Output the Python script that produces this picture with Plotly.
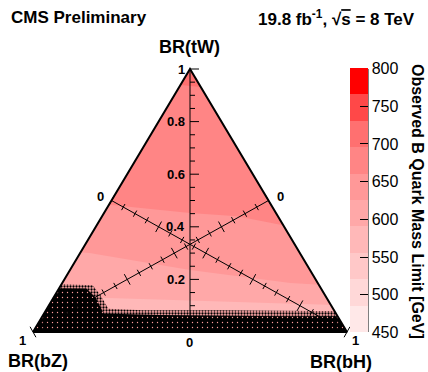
import plotly.graph_objects as go

# ---------------- data ----------------
band_edges = [450, 485, 520, 555, 590, 625, 660, 695, 730, 765, 800]
band_colors = ["#FFE8E8", "#FFD8D8", "#FFC8C8", "#FFB8B8", "#FFA8A8",
               "#FF9898", "#FF8585", "#FF7070", "#FF4848", "#FF0000"]
cbar_ticks = [450, 500, 550, 600, 650, 700, 750, 800]

# contour boundaries: x = horizontal position across base (0..1), tW = BR(tW)
b660_x = [-0.05, 0.25, 0.50, 0.65, 0.80, 1.05]
b660_tw = [0.50, 0.483, 0.452, 0.44, 0.405, 0.40]
b625_x = [-0.05, 0.18, 0.50, 0.82, 1.05]
b625_tw = [0.32, 0.30, 0.236, 0.186, 0.17]
b590_x = [-0.05, 0.25, 0.50, 0.75, 1.05]
b590_tw = [0.14, 0.13, 0.12, 0.11, 0.10]
b695_x = [0.40, 0.50, 0.60]
b695_tw = [0.95, 0.935, 0.925]

# black (no-data / dotted) region
fringe_x = [-0.1, 0.08, 0.19, 0.215, 0.24, 0.35, 0.60, 0.90, 1.1]
fringe_tw = [0.19, 0.183, 0.178, 0.14, 0.088, 0.083, 0.083, 0.08, 0.08]
core_x = [-0.1, 0.17, 0.20, 0.225, 0.40, 0.80, 1.1]
core_tw = [0.168, 0.165, 0.13, 0.07, 0.065, 0.06, 0.06]

tick_vals = [round(i * 0.05, 2) for i in range(21)]
major_vals = [0.0, 0.2, 0.4, 0.6, 0.8, 1.0]
tw_labels = ["0.2", "0.4", "0.6", "0.8", "1"]
tw_label_vals = [0.2, 0.4, 0.6, 0.8, 1.0]

# ---------------- geometry (pixels) ----------------
W, H = 428, 372
X0, X1 = 33, 347
YB, YT = 332, 69
SX = X1 - X0
SY = YB - YT
FONT = "Liberation Sans, Arial, sans-serif"


def d2p(x, y):
    return (X0 + x * SX, YB - y * SY)


def p2d(px, py):
    return ((px - X0) / SX, (YB - py) / SY)


def color_of(lo):
    return band_colors[band_edges.index(lo)]


fig = go.Figure()


def poly(xs, ys, color, **kw):
    fig.add_trace(go.Scatter(x=xs, y=ys, fill="toself", fillcolor=color,
                             mode="lines", line=dict(width=0), hoverinfo="skip",
                             showlegend=False, **kw))


# background triangle (660-695 band)
poly([0, 1, 0.5, 0], [0, 0, 1, 0], color_of(660))
# bands below boundaries
poly(b660_x + [1.05, -0.05], b660_tw + [0, 0], color_of(625))
poly(b625_x + [1.05, -0.05], b625_tw + [0, 0], color_of(590))
poly(b590_x + [1.05, -0.05], b590_tw + [0, 0], color_of(555))
# apex band above boundary
poly(b695_x + [0.6, 0.4], b695_tw + [1.1, 1.1], color_of(695))

# dotted black region
fig.add_trace(go.Scatter(x=fringe_x + [1.1, -0.1], y=fringe_tw + [0, 0], fill="toself",
                         mode="lines", line=dict(width=0), hoverinfo="skip", showlegend=False,
                         fillcolor="#FFA8A8",
                         fillpattern=dict(shape=".", bgcolor="#FFA8A8", fgcolor="black",
                                          size=3, solidity=0.45, fillmode="replace")))
fig.add_trace(go.Scatter(x=core_x + [1.1, -0.1], y=core_tw + [0, 0], fill="toself",
                         mode="lines", line=dict(width=0), hoverinfo="skip", showlegend=False,
                         fillcolor="black",
                         fillpattern=dict(shape=".", bgcolor="black", fgcolor="#FF9A9A",
                                          size=5, solidity=0.06, fillmode="replace")))

# white masks outside the triangle
poly([0, 0.5, 0.5, -0.3, -0.3, 0], [0, 1, 1.4, 1.4, 0, 0], "white")
poly([1, 0.5, 0.5, 1.4, 1.4, 1], [0, 1, 1.4, 1.4, 0, 0], "white")

# triangle edges
fig.add_trace(go.Scatter(x=[0, 1, 0.5, 0], y=[0, 0, 1, 0], mode="lines",
                         line=dict(color="black", width=2), hoverinfo="skip", showlegend=False))

# ---------------- axes drawn as lines ----------------
lx, ly = [], []


def add_seg(p, q):
    a = p2d(*p)
    b = p2d(*q)
    lx.extend([a[0], b[0], None])
    ly.extend([a[1], b[1], None])


def median_axis(s, e):
    ps = d2p(*s)
    pe = d2p(*e)
    add_seg(ps, pe)
    dx, dy = pe[0] - ps[0], pe[1] - ps[1]
    L = (dx * dx + dy * dy) ** 0.5
    ux, uy = dx / L, dy / L
    nx, ny = -uy, ux
    for v in tick_vals:
        half = 6 if v in major_vals else 3.5
        px, py = ps[0] + v * dx, ps[1] + v * dy
        add_seg((px - half * nx, py - half * ny), (px + half * nx, py + half * ny))


median_axis((0.25, 0.5), (1.0, 0.0))   # BR(bH)
median_axis((0.75, 0.5), (0.0, 0.0))   # BR(bZ)

# vertical BR(tW) axis
add_seg(d2p(0.5, 0), d2p(0.5, 1))
for v in tick_vals:
    ln = 9 if v in major_vals else 5
    p = d2p(0.5, v)
    add_seg(p, (p[0] + ln, p[1]))

fig.add_trace(go.Scatter(x=lx, y=ly, mode="lines", line=dict(color="black", width=1),
                         hoverinfo="skip", showlegend=False, cliponaxis=False))

# colorbar carrier
cs = []
n = len(band_colors)
for i, c in enumerate(band_colors):
    cs.append([i / n, c])
    cs.append([(i + 1) / n, c])
fig.add_trace(go.Scatter(
    x=[0.5, 0.5], y=[0.3, 0.3], mode="markers", hoverinfo="skip", showlegend=False,
    marker=dict(size=1, opacity=0, color=[band_edges[0], band_edges[-1]],
                colorscale=cs, cmin=band_edges[0], cmax=band_edges[-1],
                colorbar=dict(x=350 / W, xanchor="left", xpad=0, ypad=0,
                              y=1 - (YT + YB) / 2 / H, yanchor="middle",
                              len=SY + 1, lenmode="pixels", thickness=18,
                              thicknessmode="pixels", outlinewidth=0,
                              tickvals=cbar_ticks, ticks="inside", ticklen=8,
                              tickcolor="black", tickwidth=1,
                              tickfont=dict(family=FONT, size=16, color="black"))))
)

ann = []


def text(x, y, s, size=13, bold=True, xanchor="center", yanchor="middle", ref="data", angle=0):
    if ref == "data":
        dx, dy = p2d(x, y)
        xr_, yr_ = "x", "y"
    else:
        dx, dy = x / W, 1 - y / H
        xr_, yr_ = "paper", "paper"
    ann.append(dict(x=dx, y=dy, xref=xr_, yref=yr_, text=f"<b>{s}</b>" if bold else s,
                    showarrow=False, xanchor=xanchor, yanchor=yanchor, textangle=angle,
                    font=dict(family=FONT, size=size, color="black")))


text(9, 18, "CMS Preliminary", size=17, xanchor="left", ref="paper")
text(417, 18, "19.8 fb<sup>-1</sup>, √<span style='text-decoration:overline'>s</span> = 8 TeV",
     size=17, xanchor="right", ref="paper")
text(189, 47, "BR(tW)", size=18)
text(38, 361, "BR(bZ)", size=18)
text(341, 362, "BR(bH)", size=18)
text(418, 201, "Observed B Quark Mass Limit [GeV]", size=16, ref="paper", angle=90)

for v, s in zip(tw_label_vals, tw_labels):
    px, py = d2p(0.5, v)
    text(px - 3, py, s, size=13, xanchor="right")
text(189, 342, "0", size=13)
text(100, 196, "0", size=13)
text(280, 196, "0", size=13)
text(22, 340, "1", size=13)
text(355, 340, "1", size=13)

fig.update_layout(
    width=W, height=H, margin=dict(l=0, r=0, t=0, b=0),
    paper_bgcolor="white", plot_bgcolor="white",
    xaxis=dict(range=[-X0 / SX, (W - X0) / SX], visible=False, fixedrange=True),
    yaxis=dict(range=[(YB - H) / SY, YB / SY], visible=False, fixedrange=True),
    annotations=ann,
    shapes=[dict(type="line", xref="paper", yref="paper", x0=368 / W, x1=368 / W,
                 y0=1 - YB / H, y1=1 - YT / H, line=dict(color="black", width=1))],
)

fig.write_html("out.html")
